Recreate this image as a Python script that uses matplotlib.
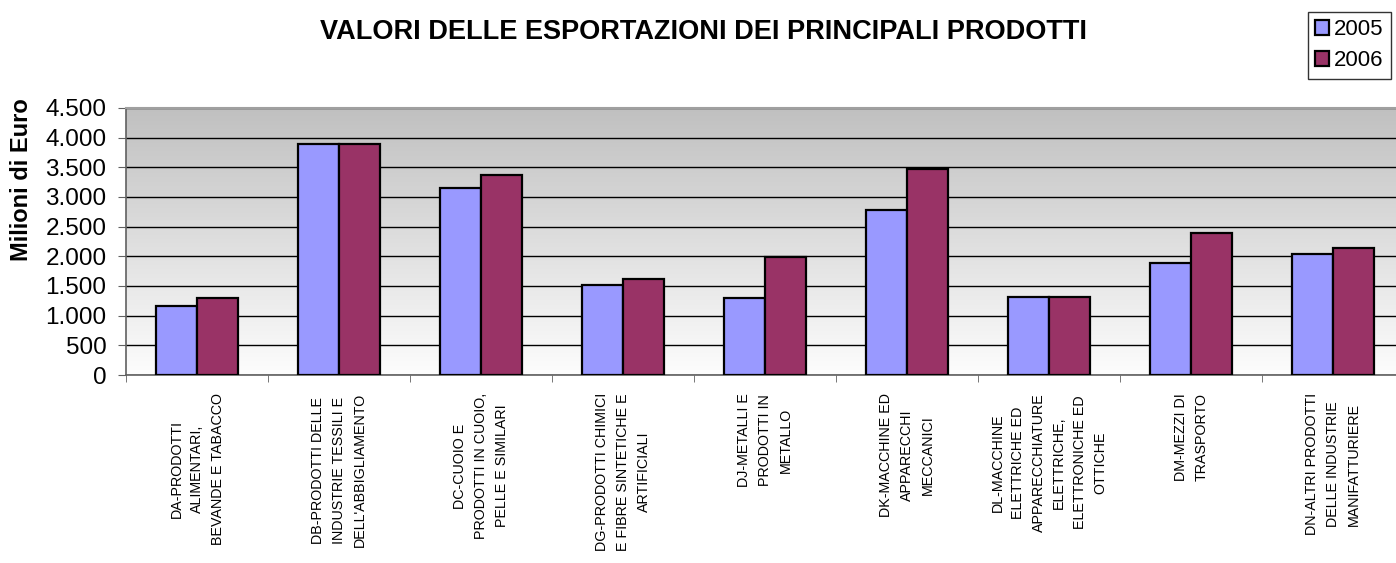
import matplotlib.pyplot as plt
import numpy as np

plt.rcParams['font.family'] = ['Liberation Sans', 'DejaVu Sans']

categories = [
    "DA-PRODOTTI\nALIMENTARI,\nBEVANDE E TABACCO",
    "DB-PRODOTTI DELLE\nINDUSTRIE TESSILI E\nDELL'ABBIGLIAMENTO",
    "DC-CUOIO E\nPRODOTTI IN CUOIO,\nPELLE E SIMILARI",
    "DG-PRODOTTI CHIMICI\nE FIBRE SINTETICHE E\nARTIFICIALI",
    "DJ-METALLI E\nPRODOTTI IN\nMETALLO",
    "DK-MACCHINE ED\nAPPARECCHI\nMECCANICI",
    "DL-MACCHINE\nELETTRICHE ED\nAPPARECCHIATURE\nELETTRICHE,\nELETTRONICHE ED\nOTTICHE",
    "DM-MEZZI DI\nTRASPORTO",
    "DN-ALTRI PRODOTTI\nDELLE INDUSTRIE\nMANIFATTURIERE",
]
val_2005 = [1155, 3893, 3155, 1515, 1301, 2789, 1313, 1887, 2039]
val_2006 = [1301, 3887, 3369, 1622, 1989, 3470, 1313, 2400, 2146]
yticks = [0, 500, 1000, 1500, 2000, 2500, 3000, 3500, 4000, 4500]
ytick_labels = ["0", "500", "1.000", "1.500", "2.000", "2.500", "3.000", "3.500", "4.000", "4.500"]

W, H = 1396, 563
fig = plt.figure(figsize=(W / 100, H / 100), dpi=100)
ax = fig.add_axes([126 / W, (H - 375) / H, (1404 - 126) / W, (375 - 108) / H])

x = np.arange(len(categories))
bw = 0.29

# gradient background: grey at top, white at bottom
grad = np.linspace(0, 1, 256).reshape(-1, 1)
ax.imshow(grad, cmap=plt.matplotlib.colors.LinearSegmentedColormap.from_list(
    'g', ['#fdfdfd', '#c0c0c0']), origin='lower', aspect='auto',
    extent=[0, 1, 0, 1], transform=ax.transAxes, zorder=0)

ax.bar(x - bw / 2, val_2005, bw, color='#9999ff', edgecolor='black', linewidth=1.6,
       label='2005', zorder=3)
ax.bar(x + bw / 2, val_2006, bw, color='#993366', edgecolor='black', linewidth=1.6,
       label='2006', zorder=3)

ax.set_xlim(-0.5, len(categories) - 0.5)
ax.set_ylim(0, 4500)
ax.set_yticks(yticks)
ax.set_yticklabels(ytick_labels, fontsize=17.5)
ax.yaxis.grid(True, color='black', linewidth=1.0, zorder=1)
ax.set_axisbelow(True)

ax.set_xticks(x)
ax.set_xticklabels([])
ax.set_xticks(np.arange(len(categories) + 1) - 0.5, minor=True)
ax.tick_params(axis='x', which='major', length=0)
ax.tick_params(axis='x', which='minor', length=5, direction='out', color='#606060')
ax.tick_params(axis='y', length=6, direction='out', color='#606060', pad=8)

for i, lab in enumerate(categories):
    ax.annotate(lab, xy=(i, 0), xycoords='data', xytext=(0, -13),
                textcoords='offset points', rotation=90, ha='center', va='top',
                multialignment='center', fontsize=10.3, linespacing=1.6,
                annotation_clip=False)

for s in ['left', 'bottom']:
    ax.spines[s].set_color('#606060')
    ax.spines[s].set_linewidth(1.2)
ax.spines['top'].set_color('#a0a0a0')
ax.spines['top'].set_linewidth(1.5)
ax.spines['right'].set_visible(False)

fig.text(22 / W, 1 - 180 / H, 'Milioni di Euro', rotation=90, ha='center',
         va='center', fontsize=17, fontweight='bold')

fig.text(704 / W, 1 - 32 / H, 'VALORI DELLE ESPORTAZIONI DEI PRINCIPALI PRODOTTI',
         ha='center', va='center', fontsize=19.5, fontweight='bold')

leg = fig.legend(loc='upper right', bbox_to_anchor=(1391 / W, 1 - 12 / H),
                 fontsize=16, frameon=True, fancybox=False, handlelength=0.6,
                 handleheight=0.6, handletextpad=0.25, borderpad=0.33,
                 labelspacing=0.45, borderaxespad=0)
leg.get_frame().set_edgecolor('black')
leg.get_frame().set_linewidth(1.0)

fig.savefig('out.png', dpi=100)
